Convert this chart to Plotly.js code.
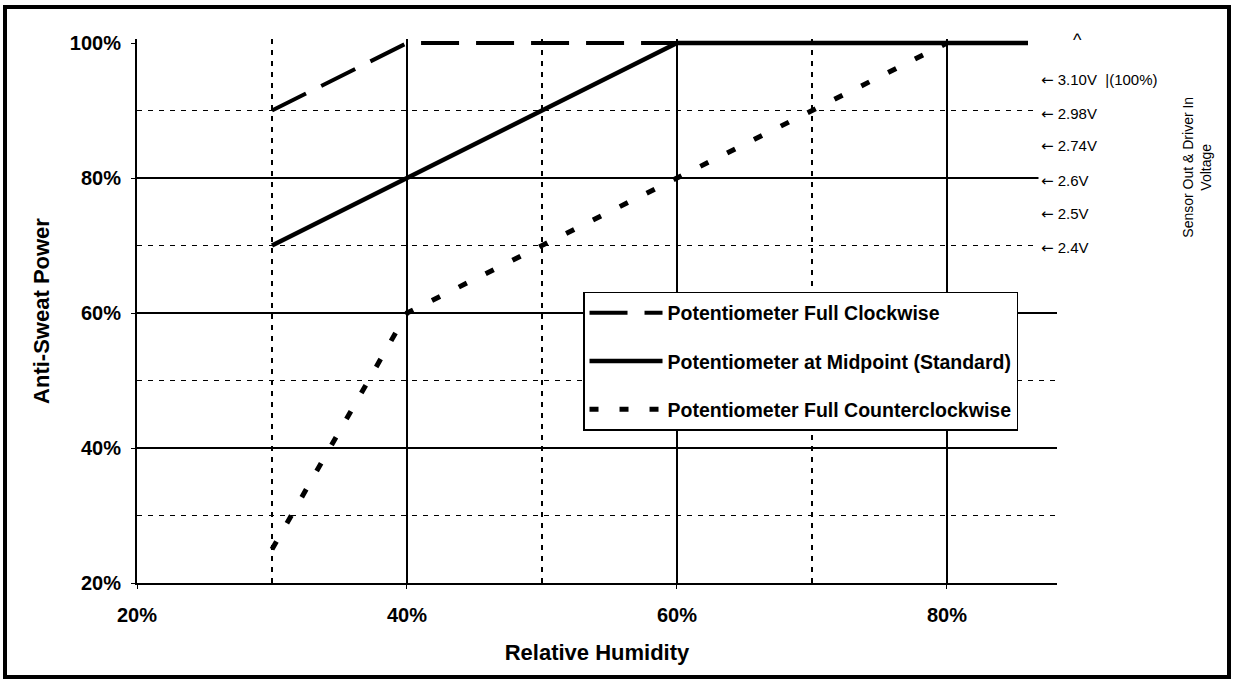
<!DOCTYPE html>
<html>
<head>
<meta charset="utf-8">
<script src="https://cdn.plot.ly/plotly-3.0.1.min.js"></script>
<style>
html,body{margin:0;padding:0;background:#fff;}
#chart{width:1234px;height:681px;}
</style>
</head>
<body>
<div id="chart"></div>
<script>
// Relative humidity (%) breakpoints and anti-sweat power (%) for each potentiometer setting
var seriesNames = [
  "Potentiometer Full Clockwise",
  "Potentiometer at Midpoint (Standard)",
  "Potentiometer Full Counterclockwise"
];
var rhClockwise = [30, 40, 86];
var powerClockwise = [90, 100, 100];
var rhMidpoint = [30, 40, 60, 86];
var powerMidpoint = [70, 80, 100, 100];
var rhCounter = [30, 40, 60, 80];
var powerCounter = [25, 60, 80, 100];

// Axis tick labels
var xTickVals = [20, 40, 60, 80];
var xTickText = ["20%", "40%", "60%", "80%"];
var yTickVals = [20, 40, 60, 80, 100];
var yTickText = ["20%", "40%", "60%", "80%", "100%"];
var yMajorGrid = [40, 60, 80];
var yMinorGrid = [30, 50, 70, 90];

// Right-side voltage labels and the power level each one sits at
var voltLabels = ["3.10V\u00a0\u00a0|(100%)", "2.98V", "2.74V", "2.6V", "2.5V", "2.4V"];
var voltLevels = [94.5, 89.5, 84.7, 79.5, 74.6, 69.7];

var FONT = '"Liberation Sans", Arial, Helvetica, sans-serif';

var traces = [
  {x: rhClockwise, y: powerClockwise, name: seriesNames[0], mode: 'lines', legendgroup: 'a',
   line: {color: '#000', width: 4, dash: '38px,17px'}},
  {x: rhMidpoint, y: powerMidpoint, name: seriesNames[1], mode: 'lines', legendgroup: 'b',
   line: {color: '#000', width: 4.5}},
  {x: rhCounter, y: powerCounter, name: seriesNames[2], mode: 'lines', legendgroup: 'c',
   yaxis: 'y2',
   line: {color: '#000', width: 5, dash: '9px,21px'}}
];

var annotations = [];
for (var i = 0; i < voltLabels.length; i++) {
  annotations.push({
    xref: 'paper', yref: 'y', x: 0.979, y: voltLevels[i], xanchor: 'left', yanchor: 'middle',
    text: '<span style="font-family:\'DejaVu Sans\'">\u2190</span>\u00a0' + voltLabels[i], showarrow: false,
    bgcolor: '#fff', borderpad: 2,
    font: {family: FONT, size: 15, color: '#000'}
  });
}
annotations.push({
  xref: 'paper', yref: 'paper', x: 1.0228, y: 0.998, xanchor: 'center', yanchor: 'middle',
  text: '^', showarrow: false, font: {family: FONT, size: 18, color: '#000'}
});
annotations.push({
  xref: 'paper', yref: 'paper', x: 1.152, y: 0.765, xanchor: 'center', yanchor: 'middle',
  text: 'Sensor Out & Driver In<br>Voltage', textangle: -90, showarrow: false,
  font: {family: FONT, size: 14, color: '#000'}
});

var layout = {
  width: 1234, height: 681,
  margin: {l: 137, r: 177, t: 39, b: 98},
  paper_bgcolor: '#fff', plot_bgcolor: '#fff',
  font: {family: FONT, color: '#000'},
  showlegend: true,
  legend: {
    x: 0.4848, y: 0.535, xanchor: 'left', yanchor: 'top',
    bgcolor: '#fff', bordercolor: '#000', borderwidth: 1.5,
    font: {family: FONT, size: 19.5, weight: 'bold', color: '#000'},
    tracegroupgap: 20, itemwidth: 73, traceorder: 'grouped'
  },
  xaxis: {
    range: [20, 88.15], tickvals: xTickVals, ticktext: xTickText,
    tickfont: {family: FONT, size: 20, weight: 'bold', color: '#000'},
    showline: true, linecolor: '#000', linewidth: 2, mirror: false,
    showgrid: true, gridcolor: '#000', gridwidth: 1.5, zeroline: false,
    ticks: 'outside', ticklen: 4, tickcolor: '#000', ticklabelstandoff: 9,
    minor: {dtick: 10, tick0: 0, showgrid: true, gridcolor: '#000', gridwidth: 1.5, griddash: '5px,6px'},
    title: {text: 'Relative Humidity', standoff: 20,
            font: {family: FONT, size: 22, weight: 'bold', color: '#000'}},
    fixedrange: true, automargin: false
  },
  yaxis: {
    range: [20, 100.6], tickvals: yTickVals, ticktext: yTickText,
    tickfont: {family: FONT, size: 20, weight: 'bold', color: '#000'},
    showline: true, linecolor: '#000', linewidth: 2,
    showgrid: false, zeroline: false,
    ticks: 'outside', ticklen: 4, tickcolor: '#000', ticklabelstandoff: 6,
    minor: {tickvals: yMinorGrid, showgrid: true, gridcolor: '#000', gridwidth: 1.5, griddash: '5px,6px'},
    title: {text: 'Anti-Sweat Power', standoff: 14,
            font: {family: FONT, size: 22, weight: 'bold', color: '#000'}},
    fixedrange: true, automargin: false
  },
  yaxis2: {
    overlaying: 'y', side: 'left', range: [20, 100.6], tickvals: yMajorGrid,
    showticklabels: false, ticks: '', showline: false, zeroline: false,
    showgrid: true, gridcolor: '#000', gridwidth: 1.5,
    fixedrange: true, automargin: false
  },
  shapes: [{
    type: 'rect', xref: 'paper', yref: 'paper',
    x0: (5 - 137) / 920, x1: (1229 - 137) / 920,
    y0: (583 - 677) / 544, y1: (583 - 7) / 544,
    line: {color: '#000', width: 4}, layer: 'above'
  }],
  annotations: annotations
};

Plotly.newPlot('chart', traces, layout, {displayModeBar: false, staticPlot: true});
</script>
</body>
</html>
